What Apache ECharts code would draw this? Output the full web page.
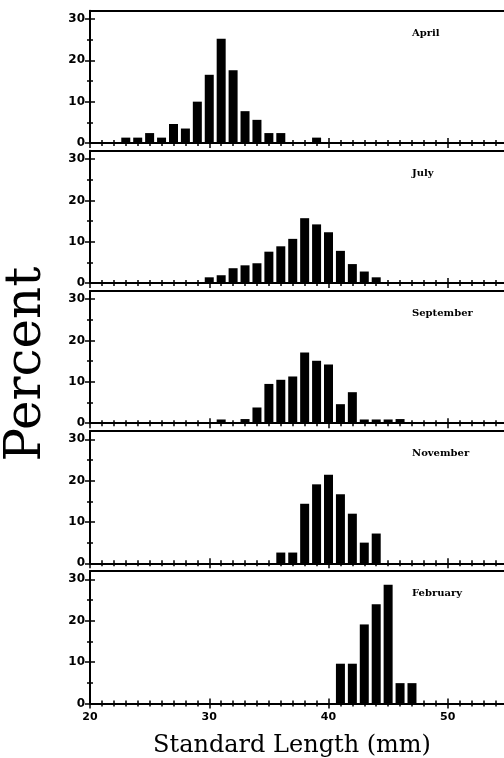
<!DOCTYPE html>
<html><head><meta charset="utf-8">
<script src="https://cdn.jsdelivr.net/npm/echarts@6/dist/echarts.min.js"></script>
<style>html,body{margin:0;padding:0;background:#fff}#c{width:504px;height:758px}</style>
</head><body><div id="c"></div>
<script>
// ---- data ----
const months = ['April', 'July', 'September', 'November', 'February'];

const aprilLength  = [23, 24, 25, 26, 27, 28, 29, 30, 31, 32, 33, 34, 35, 36, 39];
const aprilPercent = [1.3, 1.3, 2.4, 1.3, 4.6, 3.5, 10.0, 16.5, 25.2, 17.6, 7.7, 5.6, 2.4, 2.4, 1.3];

const julyLength  = [30, 31, 32, 33, 34, 35, 36, 37, 38, 39, 40, 41, 42, 43, 44];
const julyPercent = [1.4, 1.9, 3.6, 4.3, 4.8, 7.6, 8.9, 10.7, 15.7, 14.2, 12.3, 7.8, 4.6, 2.8, 1.4];

const septemberLength  = [31, 33, 34, 35, 36, 37, 38, 39, 40, 41, 42, 43, 44, 45, 46];
const septemberPercent = [0.9, 1.0, 3.8, 9.5, 10.5, 11.3, 17.1, 15.1, 14.2, 4.6, 7.5, 0.9, 0.9, 0.9, 1.0];

const novemberLength  = [36, 37, 38, 39, 40, 41, 42, 43, 44];
const novemberPercent = [2.6, 2.6, 14.4, 19.1, 21.4, 16.7, 12.0, 5.0, 7.2];

const februaryLength  = [41, 42, 43, 44, 45, 46, 47];
const februaryPercent = [9.6, 9.6, 19.1, 24.0, 28.7, 4.9, 4.9];

const xTickLabels = [20, 30, 40, 50];
const xMinorTicks = [21, 22, 23, 24, 25, 26, 27, 28, 29, 31, 32, 33, 34, 35, 36, 37, 38, 39,
                     41, 42, 43, 44, 45, 46, 47, 48, 49, 51, 52, 53, 54];
const yTickLabels = [0, 10, 20, 30];
const yMinorTicks = [5, 15, 25];

const xTitle = 'Standard Length (mm)';
const yTitle = 'Percent';

// ---- layout ----
const panels = [
  { name: months[0], len: aprilLength, pct: aprilPercent },
  { name: months[1], len: julyLength, pct: julyPercent },
  { name: months[2], len: septemberLength, pct: septemberPercent },
  { name: months[3], len: novemberLength, pct: novemberPercent },
  { name: months[4], len: februaryLength, pct: februaryPercent }
];
const baselines = [143.0, 283.1, 423.2, 563.3, 703.4];
const H = 132.3;
const X_MIN = 20, X_MAX = 54.8, Y_MIN = 0, Y_MAX = 32;
const INK = '#000';
const NX = 5, NY = 4;

const grid = [], xAxis = [], yAxis = [], series = [], graphic = [];

function baseX(i, extra) {
  return Object.assign({
    type: 'value', gridIndex: i, min: X_MIN, max: X_MAX, position: 'bottom',
    splitLine: { show: false },
    axisLine: { show: false, onZero: false },
    axisTick: { show: false },
    axisLabel: { show: false }
  }, extra);
}
function baseY(i, extra) {
  return Object.assign({
    type: 'value', gridIndex: i, min: Y_MIN, max: Y_MAX, position: 'left',
    splitLine: { show: false },
    axisLine: { show: false, onZero: false },
    axisTick: { show: false },
    axisLabel: { show: false }
  }, extra);
}
const tickStyle = { color: INK, width: 1.5 };

panels.forEach((p, i) => {
  grid.push({ left: 90, top: baselines[i] - H, width: 415, height: H,
              containLabel: false, outerBoundsMode: 'none' });

  // x axes
  xAxis.push(baseX(i, {
    axisLine: { show: true, onZero: false, lineStyle: { color: INK, width: 2 } },
    axisTick: { show: true, inside: false, length: 5, customValues: xTickLabels, lineStyle: tickStyle },
    axisLabel: { show: i === 4, customValues: xTickLabels, margin: 8, color: INK,
                 fontFamily: 'DejaVu Sans', fontWeight: 'bold', fontSize: 11 }
  }));
  xAxis.push(baseX(i, { axisTick: { show: true, inside: true, length: 5, customValues: xTickLabels, lineStyle: tickStyle } }));
  xAxis.push(baseX(i, { axisTick: { show: true, inside: false, length: 3, customValues: xMinorTicks, lineStyle: tickStyle } }));
  xAxis.push(baseX(i, { axisTick: { show: true, inside: true, length: 3, customValues: xMinorTicks, lineStyle: tickStyle } }));
  xAxis.push(baseX(i, { position: 'top',
    axisLine: { show: true, onZero: false, lineStyle: { color: INK, width: 2 } } }));

  // y axes
  yAxis.push(baseY(i, {
    axisLine: { show: true, onZero: false, lineStyle: { color: INK, width: 2 } },
    axisTick: { show: true, inside: false, length: 5, customValues: yTickLabels, lineStyle: tickStyle },
    axisLabel: { show: true, customValues: yTickLabels, margin: 5, color: INK,
                 fontFamily: 'DejaVu Sans', fontWeight: 'bold', fontSize: 12 }
  }));
  yAxis.push(baseY(i, { axisTick: { show: true, inside: true, length: 5, customValues: yTickLabels, lineStyle: tickStyle } }));
  yAxis.push(baseY(i, { axisTick: { show: true, inside: false, length: 3, customValues: yMinorTicks, lineStyle: tickStyle } }));
  yAxis.push(baseY(i, { axisTick: { show: true, inside: true, length: 3, customValues: yMinorTicks, lineStyle: tickStyle } }));

  series.push({
    type: 'bar', name: p.name, xAxisIndex: i * NX, yAxisIndex: i * NY,
    data: p.len.map((x, k) => [x, p.pct[k]]),
    barWidth: 9, itemStyle: { color: INK }, silent: true
  });

  graphic.push({
    type: 'text', x: 412, y: baselines[i] - H + 22.5, silent: true,
    style: { text: p.name, fill: INK, font: 'bold 10px "DejaVu Serif"',
             align: 'left', verticalAlign: 'middle', textAlign: 'left', textVerticalAlign: 'middle' }
  });
});

graphic.push({
  type: 'text', x: 27, y: 364, rotation: Math.PI / 2, silent: true,
  style: { text: yTitle, fill: INK, font: '50px "DejaVu Serif"',
           align: 'center', verticalAlign: 'middle', textAlign: 'center', textVerticalAlign: 'middle' }
});
graphic.push({
  type: 'text', x: 292, y: 746, silent: true,
  style: { text: xTitle, fill: INK, font: '24px "DejaVu Serif"',
           align: 'center', verticalAlign: 'middle', textAlign: 'center', textVerticalAlign: 'middle' }
});

const chart = echarts.init(document.getElementById('c'), null, { renderer: 'canvas' });
chart.setOption({
  animation: false,
  backgroundColor: '#fff',
  grid, xAxis, yAxis, series, graphic
});
</script>
</body></html>
